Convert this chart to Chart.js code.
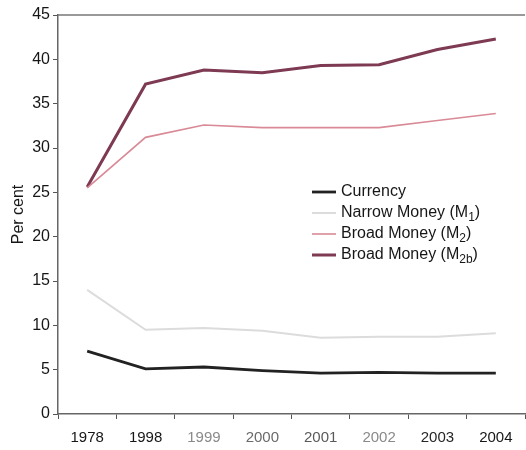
<!DOCTYPE html>
<html lang="en">
<head>
<meta charset="utf-8">
<title>Money as per cent of GDP</title>
<script src="https://cdn.jsdelivr.net/npm/chart.js"></script>
<style>
  html, body { margin: 0; padding: 0; background: #fff; }
  #wrap { width: 526px; height: 450px; }
</style>
</head>
<body>
<div id="wrap"><canvas id="myChart"></canvas></div>
<script>
// data
const years = ['1978', '1998', '1999', '2000', '2001', '2002', '2003', '2004'];
const currency = [7.1, 5.1, 5.3, 4.9, 4.6, 4.7, 4.6, 4.6];
const narrowMoney = [14.0, 9.5, 9.7, 9.4, 8.6, 8.7, 8.7, 9.1];
const broadMoney = [25.5, 31.2, 32.6, 32.3, 32.3, 32.3, 33.1, 33.9];
const broadMoney2b = [25.6, 37.2, 38.8, 38.5, 39.3, 39.4, 41.1, 42.3];
const seriesNames = ['Currency', 'Narrow Money (M_{1})', 'Broad Money (M_{2})', 'Broad Money (M_{2b})'];
const yMin = 0, yMax = 45, yStep = 5;

const FONT = '"Liberation Sans", Arial, sans-serif';
// scan made some year labels paler
const xTickColors = ['#161616', '#161616', '#8a8a8a', '#6a6a6a', '#5a5a5a', '#8a8a8a', '#262626', '#161616'];

// draws text with _{...} parts as subscripts
function drawRich(ctx, str, x, y, size) {
    const parts = str.split(/(_\{[^}]*\})/);
    parts.forEach(p => {
        if (!p) return;
        if (p.startsWith('_{')) {
            const t = p.slice(2, -1);
            ctx.font = Math.round(size * 0.72) + 'px ' + FONT;
            ctx.fillText(t, x, y + size * 0.28);
            x += ctx.measureText(t).width;
        } else {
            ctx.font = size + 'px ' + FONT;
            ctx.fillText(p, x, y);
            x += ctx.measureText(p).width;
        }
    });
}

const frameAndLegend = {
    id: 'frameAndLegend',
    afterDraw(chart) {
        const ctx = chart.ctx;
        const a = chart.chartArea;
        ctx.save();
        // top frame line
        ctx.strokeStyle = '#777';
        ctx.lineWidth = 1.5;
        ctx.beginPath();
        ctx.moveTo(a.left, a.top);
        ctx.lineTo(a.right, a.top);
        ctx.stroke();

        // legend inside plot
        let lx = 312, ly = 192;
        chart.data.datasets.forEach(ds => {
            ctx.strokeStyle = ds.borderColor;
            ctx.lineWidth = ds.borderWidth;
            ctx.beginPath();
            ctx.moveTo(lx, ly);
            ctx.lineTo(lx + 24, ly);
            ctx.stroke();
            ctx.fillStyle = '#161616';
            ctx.textBaseline = 'middle';
            drawRich(ctx, ds.label, lx + 29, ly, 16);
            ly += 21;
        });
        ctx.restore();
    }
};

const ctx = document.getElementById('myChart').getContext('2d');
const myChart = new Chart(ctx, {
    type: 'line',
    data: {
        labels: years,
        datasets: [
            { label: seriesNames[0], data: currency, borderColor: '#222222', borderWidth: 2.8 },
            { label: seriesNames[1], data: narrowMoney, borderColor: '#dcdcdc', borderWidth: 2 },
            { label: seriesNames[2], data: broadMoney, borderColor: '#d98a96', borderWidth: 1.6 },
            { label: seriesNames[3], data: broadMoney2b, borderColor: '#7d3a52', borderWidth: 3 }
        ]
    },
    options: {
        responsive: true,
        maintainAspectRatio: false,
        animation: false,
        elements: { point: { radius: 0 }, line: { tension: 0 } },
        layout: { padding: { top: 15, right: 1, left: 0, bottom: 0 } },
        plugins: { legend: { display: false }, tooltip: { enabled: false } },
        scales: {
            x: {
                offset: true,
                grid: { display: true, drawOnChartArea: false, drawTicks: true, tickLength: 5, tickColor: '#555', offset: true },
                border: { color: '#666', width: 1.5 },
                ticks: { color: xTickColors, font: { family: FONT, size: 15 }, padding: 10, maxRotation: 0 },
                afterFit: s => { s.height = 36; }
            },
            y: {
                min: yMin,
                max: yMax,
                grid: { display: true, drawOnChartArea: false, drawTicks: true, tickLength: 5, tickColor: '#555' },
                border: { color: '#666', width: 1.5 },
                ticks: { stepSize: yStep, color: '#161616', font: { family: FONT, size: 16 }, padding: 3 },
                title: { display: true, text: 'Per cent', color: '#161616', font: { family: FONT, size: 16 }, padding: { top: 9, bottom: 0 } },
                afterFit: s => { s.width = 58; }
            }
        }
    },
    plugins: [frameAndLegend]
});
</script>
</body>
</html>
